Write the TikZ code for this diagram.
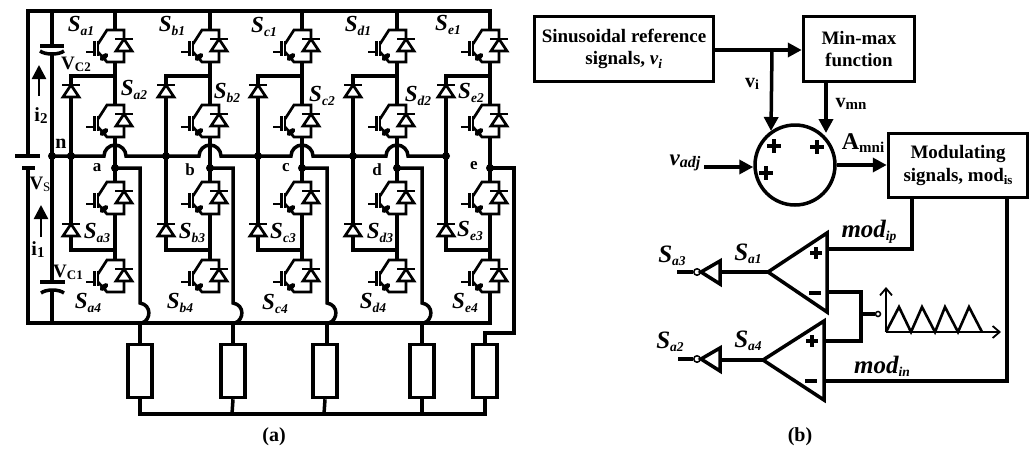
\documentclass[tikz,border=0pt]{standalone}
\usepackage{fontspec}
\setmainfont{Liberation Serif}
\usetikzlibrary{arrows.meta}
\tikzset{
  x=1pt,y=-1pt,
  wire/.style={line width=3.5pt},
  thinw/.style={line width=2.7pt},
  arr/.style={line width=3.5pt,-{Triangle[length=14pt,width=14pt]}},
  dot/.style={circle,fill=black,draw=none,inner sep=0pt,minimum size=8pt},
  block/.style={draw,line width=3.5pt,align=center,font=\fontsize{19}{22.5}\selectfont\bfseries,inner sep=0pt},
  lbl/.style={inner sep=0pt,font=\fontsize{20}{22}\selectfont\bfseries},
  sl/.style={inner sep=0pt},
  pm/.style={line width=4.5pt},
}
\newcommand\swl[2]{{\fontsize{23}{24}\selectfont\bfseries\itshape #1\raisebox{-.2em}{\fontsize{13.5}{14}\selectfont #2}}}
\newcommand\swr[2]{{\fontsize{25}{25}\selectfont\bfseries\itshape #1\raisebox{-.12em}{\fontsize{13.5}{14}\selectfont #2}}}
\newcommand\igbtsw[2]{%
  \begin{scope}[shift={(#1,#2)}]
    \draw[thinw] (-17,14)--(-8,0)--(9,0)--(9,32)--(-8,32)--(-17,22);
    \draw[thinw] (-17,11)--(-17,26);
    \draw[line width=3pt] (-21,11)--(-21,26);
    \draw[thinw] (-29,22)--(-21,22);
    \fill[rotate around={40:(-11,27)}] (-11,27) ellipse (5 and 2.8);
    \draw[thinw,fill=white] (9,9)--(1,21)--(17,21)--cycle;
    \draw[thinw] (0,9)--(18,9);
  \end{scope}}
\newcommand\pluss[2]{\draw[pm] (#1-7,#2)--(#1+7,#2) (#1,#2-7)--(#1,#2+7);}
\newcommand\plusm[2]{\draw[pm] (#1-6,#2)--(#1+6,#2) (#1,#2-6)--(#1,#2+6);}
\newcommand\minusm[2]{\draw[pm] (#1-6,#2)--(#1+6,#2);}
\begin{document}
\begin{tikzpicture}
\useasboundingbox (0,0) rectangle (1033,450);
% rails
\draw[wire] (28,156)--(28,11)--(490,11)--(490,30);
\draw[wire] (28,168)--(28,323)--(490,323)--(490,292);
\draw[wire] (15,156)--(40,156);
\draw[wire] (22,168)--(35,168);
\draw[wire] (52,11)--(52,46);
\draw[wire] (40,46)--(64,46);
\draw[wire] (40,51) .. controls (45,55) and (59,55) .. (64,51);
\draw[wire] (52,54)--(52,282);
\draw[wire] (40,282)--(65,282);
\draw[wire] (41,293) .. controls (46,289) and (59,289) .. (64,293);
\draw[wire] (52,290)--(52,323);
% neutral line with hops
\draw[wire] (52,156)--(104,156)
  .. controls (104,150) and (109,145) .. (115,145) .. controls (121,145) and (126,150) .. (126,156)
  --(199,156)
  .. controls (199,150) and (204,145) .. (210,145) .. controls (216,145) and (221,150) .. (221,156)
  --(291,156)
  .. controls (291,150) and (296,145) .. (302,145) .. controls (308,145) and (313,150) .. (313,156)
  --(386,156)
  .. controls (386,150) and (391,145) .. (397,145) .. controls (403,145) and (408,150) .. (408,156)
  --(447,156);
\node[dot] (nA) at (52,156) {};
\node[dot] (nB) at (71,156) {};
% phases
\foreach \leg/\dio/\out/\lc/\ld/\nm in {115/71/140/140/140/a,210/166/233/233/232/b,302/258/327/325/324/c,397/353/422/422/422/d,490/446/514/485/485/e}{
  \draw[wire] (\leg,11)--(\leg,30);
  \draw[wire] (\leg,62)--(\leg,105);
  \draw[wire] (\leg,137)--(\leg,182);
  \draw[wire] (\leg,214)--(\leg,260);
  \igbtsw{\leg}{30}
  \igbtsw{\leg}{105}
  \igbtsw{\leg}{182}
  \igbtsw{\leg}{260}
  \draw[wire] (\leg,76)--(\dio,76)--(\dio,85);
  \draw[wire] (\dio,97)--(\dio,223);
  \draw[wire] (\dio,236)--(\dio,250)--(\leg,250);
  \draw[thinw,fill=white] (\dio,85)--(\dio-8,97)--(\dio+8,97)--cycle;
  \draw[thinw] (\dio-9,85)--(\dio+9,85);
  \draw[thinw,fill=white] (\dio,224)--(\dio-8,236)--(\dio+8,236)--cycle;
  \draw[thinw] (\dio-9,224)--(\dio+9,224);
  \node[dot] (p\nm) at (\leg,168) {};
  \node[dot] (q\nm) at (\dio,156) {};
  \node[draw,line width=3.5pt,fill=white,minimum width=24pt,minimum height=53pt,inner sep=0pt] (load\nm) at (\lc,371) {};
}
% outputs
\foreach \out/\nm in {140/a,233/b,327/c,422/d}{
  \draw[wire] (p\nm.center)--(\out,168)--(\out,303)
     .. controls (\out+12,305) and (\out+11,320) .. (\out+2,323);
  \draw[wire] (\out,323)--(\out,344);
}
\draw[wire] (pe.center)--(514,168)--(514,333)--(485,333)--(loade.north);
\draw[wire] (loada.south)--(140,414)--(485,414)--(loade.south);
\draw[wire] (232,414)--(loadb.south);
\draw[wire] (324,414)--(loadc.south);
\draw[wire] (422,414)--(loadd.south);
% current arrows
\coordinate (i2a) at (39,96); \coordinate (i2b) at (39,65);
\coordinate (i1a) at (41,237); \coordinate (i1b) at (41,205);
\draw[arr,line width=2.5pt] (i2a)--(i2b);
\draw[arr,line width=2.5pt] (i1a)--(i1b);
% left labels
\node[sl] (Sa1) at (81,26) {\swl{S}{a1}};
\node[sl] (Sb1) at (172,26) {\swl{S}{b1}};
\node[sl] (Sc1) at (264,27) {\swl{S}{c1}};
\node[sl] (Sd1) at (358,26) {\swl{S}{d1}};
\node[sl] (Se1) at (448,25) {\swl{S}{e1}};
\node[sl] (Sa2) at (134,90) {\swl{S}{a2}};
\node[sl] (Sb2) at (227,93) {\swl{S}{b2}};
\node[sl] (Sc2) at (322,96) {\swl{S}{c2}};
\node[sl] (Sd2) at (418,96) {\swl{S}{d2}};
\node[sl] (Se2) at (471,93) {\swl{S}{e2}};
\node[sl] (Sa3) at (97,233) {\swl{S}{a3}};
\node[sl] (Sb3) at (192,233) {\swl{S}{b3}};
\node[sl] (Sc3) at (283,233) {\swl{S}{c3}};
\node[sl] (Sd3) at (380,233) {\swl{S}{d3}};
\node[sl] (Se3) at (470,231) {\swl{S}{e3}};
\node[sl] (Sa4) at (88,303) {\swl{S}{a4}};
\node[sl] (Sb4) at (180,303) {\swl{S}{b4}};
\node[sl] (Sc4) at (275,304) {\swl{S}{c4}};
\node[sl] (Sd4) at (373,303) {\swl{S}{d4}};
\node[sl] (Se4) at (465,303) {\swl{S}{e4}};
\node[lbl,font=\fontsize{19}{20}\selectfont] (Vc2) at (76,64) {\textbf{V}\raisebox{-.1em}{\fontsize{13}{14}\selectfont\bfseries C2}};
\node[lbl,font=\fontsize{19}{20}\selectfont] (Vc1) at (68,272) {\textbf{V}\raisebox{-.1em}{\fontsize{13}{14}\selectfont\bfseries C1}};
\node[lbl,font=\fontsize{19}{20}\selectfont] (Vs) at (40,184) {\textbf{V}\raisebox{-.1em}{\fontsize{13}{14}\selectfont S}};
\node[lbl] (i2) at (41,116) {i\raisebox{-.1em}{\fontsize{15}{16}\selectfont 2}};
\node[lbl] (i1) at (38,250) {i\raisebox{-.1em}{\fontsize{15}{16}\selectfont 1}};
\node[lbl] (ln) at (61,144) {n};
\node[lbl,font=\fontsize{17}{19}\selectfont\bfseries] (la) at (97,168) {a};
\node[lbl,font=\fontsize{17}{19}\selectfont\bfseries] (lb) at (190,170) {b};
\node[lbl,font=\fontsize{17}{19}\selectfont\bfseries] (lc) at (286,168) {c};
\node[lbl,font=\fontsize{17}{19}\selectfont\bfseries] (ld) at (377,170) {d};
\node[lbl,font=\fontsize{17}{19}\selectfont\bfseries] (le) at (474,166) {e};
\node[lbl] (capa) at (274,437) {(a)};
\node[lbl] (capb) at (800,437) {(b)};
% right: blocks
\node[block,minimum width=179pt,minimum height=65pt] (sin) at (624,49) {Sinusoidal reference\\signals, \textit{v\textsubscript{i}}};
\node[block,minimum width=111pt,minimum height=65pt] (mm) at (859,49) {Min-max\\function};
\node[block,minimum width=139pt,minimum height=64pt] (mod) at (958,165.5) {Modulating\\signals, mod\raisebox{-.15em}{\fontsize{13}{14}\selectfont is}};
\node[draw,circle,line width=3.5pt,minimum size=80pt,inner sep=0pt] (sum) at (795,165) {};
\coordinate (branch) at (772,50);
\coordinate (vadj) at (704,167);
\coordinate (sumv) at (771,131);
\coordinate (summ) at (826,133);
\draw[arr] (sin.east |- branch)--(mm.west |- branch);
\draw[arr] (branch)--(sumv);
\draw[arr] (mm.south -| summ)--(summ);
\draw[arr] (vadj)--(sum.west |- vadj);
\draw[arr] (sum.east)--(mod.west |- sum);
\pluss{774}{146}
\pluss{817}{147}
\pluss{766}{173}
\node[lbl] (lvi) at (752,84) {v\raisebox{-.1em}{\fontsize{14}{15}\selectfont i}};
\node[lbl] (lvmn) at (851,104) {v\raisebox{-.1em}{\fontsize{15}{16}\selectfont mn}};
\node[sl] (lvadj) at (685,163) {\fontsize{23}{24}\selectfont\bfseries\itshape v\raisebox{-.1em}{\fontsize{16}{17}\selectfont adj}};
\node[lbl] (lamni) at (863,143) {\fontsize{24}{25}\selectfont A\raisebox{-.1em}{\fontsize{15}{16}\selectfont mni}};
% comparators
\draw[wire,line join=miter] (768,272)--(827,233)--(827,312)--cycle;
\draw[wire,line join=miter] (763,360)--(824,321)--(824,400)--cycle;
\coordinate (c1p) at (827,249); \coordinate (c1m) at (827,292);
\coordinate (c2p) at (824,341); \coordinate (c2m) at (824,381);
\coordinate (c1o) at (768,272); \coordinate (c2o) at (763,360);
\plusm{816}{253}
\minusm{815}{293}
\plusm{812}{341}
\minusm{811}{381}
\coordinate (m1) at (912,249); \coordinate (m2) at (1007,381);
\draw[wire] (mod.south -| m1)--(m1)--(c1p);
\draw[wire] (mod.south -| m2)--(m2)--(c2m);
\draw[wire] (c1m)--(861,292)--(861,341)--(c2p);
\node[draw,circle,line width=1.5pt,fill=white,minimum size=5pt,inner sep=0pt] (tri) at (878,314) {};
\draw[wire] (861,314)--(tri.west);
% inverters
\node[draw,circle,line width=1.5pt,fill=white,minimum size=6.5pt,inner sep=0pt] (b1) at (697,272) {};
\node[draw,circle,line width=1.5pt,fill=white,minimum size=6.5pt,inner sep=0pt] (b2) at (697,359) {};
\coordinate (e1) at (677,272); \coordinate (e2) at (678,359);
\coordinate (in1) at (720,272); \coordinate (in2) at (720,360);
\draw[wire] (c1o)--(in1);
\draw[wire] (c2o)--(in2);
\draw[wire] (b1.west)--(e1);
\draw[wire] (b2.west)--(e2);
\draw[wire,line join=miter] (701,272)--(720,261)--(720,284)--cycle;
\draw[wire,line join=miter] (701,359)--(720,348)--(720,371)--cycle;
\node[sl] (rS3) at (672,256) {\swr{S}{a3}};
\node[sl] (rS1) at (748,254) {\swr{S}{a1}};
\node[sl] (rS2) at (670,342) {\swr{S}{a2}};
\node[sl] (rS4) at (748,341) {\swr{S}{a4}};
\node[sl] (mip) at (869,232) {\swr{mod}{ip}};
\node[sl] (min) at (882,366) {\swr{mod}{in}};
% carrier
\coordinate (o) at (886,332); \coordinate (yt) at (886,287); \coordinate (xt) at (1001,332);
\draw[line width=1.8pt,-{Straight Barb[length=7pt,width=12pt]}] (o)--(yt);
\draw[line width=1.8pt,-{Straight Barb[length=7pt,width=12pt]}] (o)--(xt);
\draw[line width=2.6pt,line join=miter] (o)--(899,307)--(911,332)--(922,307)--(935,332)--(945,307)--(958,332)--(969,307)--(982,332);
\end{tikzpicture}
\end{document}
